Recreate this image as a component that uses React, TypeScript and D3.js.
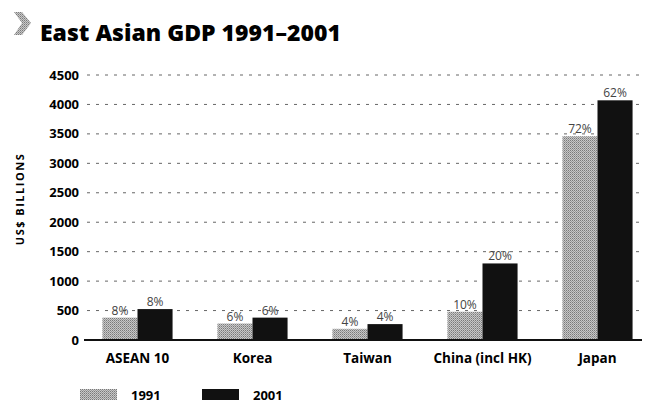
import React, { useRef, useEffect } from 'react';
import * as d3 from 'd3';

const categories = ['ASEAN 10', 'Korea', 'Taiwan', 'China (incl HK)', 'Japan'];
const gdp1991 = [380, 280, 190, 480, 3460];
const gdp2001 = [525, 380, 270, 1300, 4070];
const share1991 = ['8%', '6%', '4%', '10%', '72%'];
const share2001 = ['8%', '6%', '4%', '20%', '62%'];
const yTicks = [0, 500, 1000, 1500, 2000, 2500, 3000, 3500, 4000, 4500];
const seriesNames = ['1991', '2001'];

const width = 650;
const height = 406;
const font = "'Open Sans', 'DejaVu Sans', sans-serif";

const App = () => {
  const svgRef = useRef<SVGSVGElement>(null);

  useEffect(() => {
    const svg = d3.select(svgRef.current);
    svg.selectAll('*').remove();

    // dithered grey fill for the 1991 bars
    const defs = svg.append('defs');
    const pat = defs.append('pattern')
      .attr('id', 'dither')
      .attr('width', 2).attr('height', 2)
      .attr('patternUnits', 'userSpaceOnUse');
    pat.append('rect').attr('width', 2).attr('height', 2).attr('fill', '#c8c8c8');
    pat.append('rect').attr('width', 1).attr('height', 1).attr('fill', '#7a7a7a');
    pat.append('rect').attr('x', 1).attr('y', 1).attr('width', 1).attr('height', 1).attr('fill', '#9a9a9a');

    const x = d3.scaleBand<string>().domain(categories).range([80, 655]).paddingInner(0).paddingOuter(0);
    const x1 = d3.scaleBand<string>().domain(seriesNames).range([0, x.bandwidth()]).paddingInner(0).paddingOuter(0.64);
    const y = d3.scaleLinear().domain([0, 4500]).range([340, 75]);

    // title
    const head = svg.append('g');
    head.append('path')
      .attr('d', 'M14,12 L22,12 L31,23 L22,35 L14,35 L22,23 Z')
      .attr('fill', 'url(#dither)');
    head.append('text')
      .attr('x', 40).attr('y', 41)
      .attr('font-family', font).attr('font-weight', 800).attr('font-size', 23)
      .text('East Asian GDP 1991–2001');

    // y axis label
    svg.append('text')
      .attr('transform', 'translate(24,199) rotate(-90)')
      .attr('text-anchor', 'middle')
      .attr('font-family', font).attr('font-weight', 700).attr('font-size', 11)
      .attr('letter-spacing', 1.5)
      .text('US$ BILLIONS');

    // gridlines + tick labels
    const grid = svg.append('g');
    grid.selectAll('line')
      .data(yTicks.filter(d => d > 0))
      .join('line')
      .attr('x1', 87).attr('x2', 642)
      .attr('y1', d => y(d)).attr('y2', d => y(d))
      .attr('stroke', '#666').attr('stroke-width', 1)
      .attr('stroke-dasharray', '3,6');
    grid.selectAll('text')
      .data(yTicks)
      .join('text')
      .attr('x', 79).attr('y', d => y(d) + 4.5)
      .attr('text-anchor', 'end')
      .attr('font-family', font).attr('font-weight', 700).attr('font-size', 13)
      .text(d => d);

    // bars
    const groups = svg.append('g').selectAll('g')
      .data(categories)
      .join('g')
      .attr('transform', d => `translate(${x(d)},0)`);

    const rows = (i: number) => [
      { s: '1991', v: gdp1991[i], p: share1991[i] },
      { s: '2001', v: gdp2001[i], p: share2001[i] },
    ];

    groups.selectAll('rect')
      .data((d, i) => rows(i))
      .join('rect')
      .attr('x', d => x1(d.s)!)
      .attr('width', x1.bandwidth())
      .attr('y', d => y(d.v))
      .attr('height', d => y(0) - y(d.v))
      .attr('fill', d => d.s === '1991' ? 'url(#dither)' : '#111');

    groups.selectAll('text.pct')
      .data((d, i) => rows(i))
      .join('text')
      .attr('class', 'pct')
      .attr('x', d => x1(d.s)! + x1.bandwidth() / 2)
      .attr('y', d => y(d.v) - 3)
      .attr('text-anchor', 'middle')
      .attr('font-family', font).attr('font-size', 12)
      .attr('fill', '#444')
      .text(d => d.p);

    // baseline
    svg.append('line')
      .attr('x1', 84).attr('x2', 642)
      .attr('y1', y(0)).attr('y2', y(0))
      .attr('stroke', '#111').attr('stroke-width', 2);

    // category labels
    svg.append('g').selectAll('text')
      .data(categories)
      .join('text')
      .attr('x', d => x(d)! + x.bandwidth() / 2)
      .attr('y', 363)
      .attr('text-anchor', 'middle')
      .attr('font-family', font).attr('font-weight', 700).attr('font-size', 13.5)
      .text(d => d);

    // legend
    const legend = svg.append('g').selectAll('g')
      .data(seriesNames)
      .join('g')
      .attr('transform', (d, i) => `translate(${80 + i * 122},389)`);
    legend.append('rect')
      .attr('width', 37).attr('height', 11)
      .attr('fill', d => d === '1991' ? 'url(#dither)' : '#111');
    legend.append('text')
      .attr('x', 51).attr('y', 11)
      .attr('font-family', font).attr('font-weight', 700).attr('font-size', 13)
      .text(d => d);
  }, []);

  return <svg ref={svgRef} width={width} height={height} style={{ position: 'absolute', left: 0, top: 0 }} />;
};

export default App;
